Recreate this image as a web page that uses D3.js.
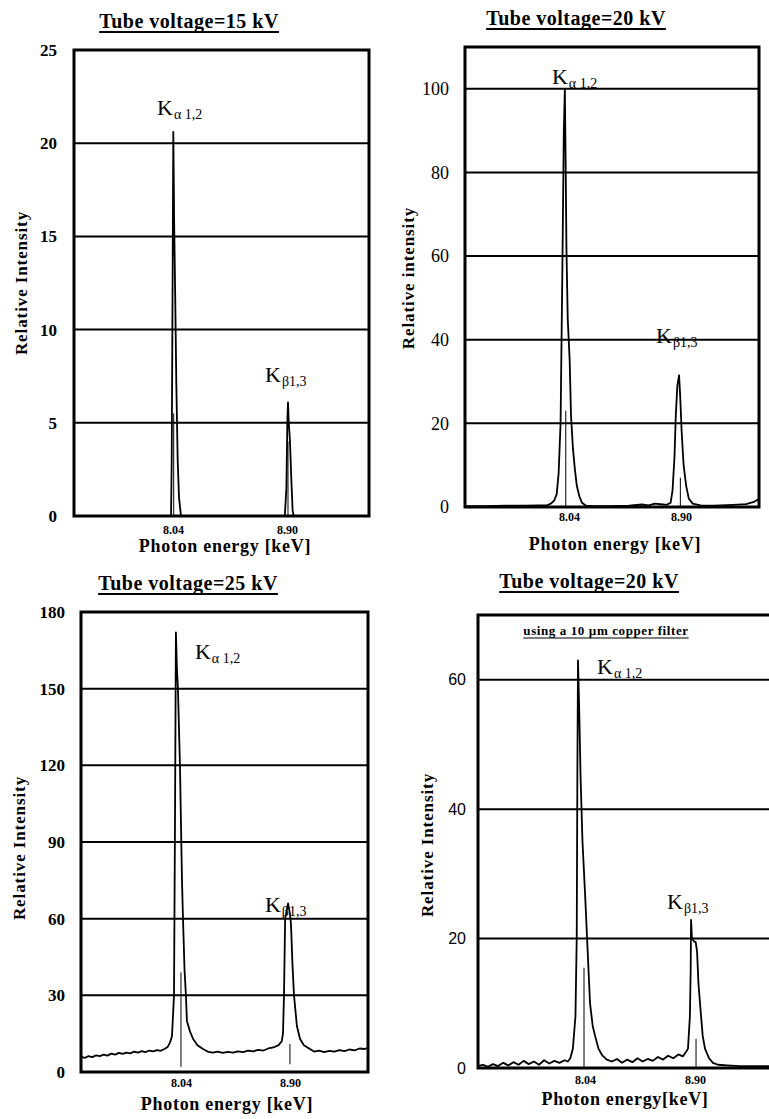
<!DOCTYPE html>
<html>
<head>
<meta charset="utf-8">
<script src="https://cdn.jsdelivr.net/npm/d3@7"></script>
<style>
  body { margin: 0; background: #fff; }
  svg { display: block; font-family: "Liberation Serif", "Times New Roman", serif; }
</style>
</head>
<body>
<script>
// ---- data (energy keV, relative intensity) ----
const xTicks = [8.04, 8.90]

const yTicks15 = [0, 5, 10, 15, 20, 25]
const spec15 = [
  [7.29, 0], [8.02, 0], [8.025, 0], [8.03, 3], [8.035, 10], [8.042, 20.6], [8.048, 16],
  [8.056, 12], [8.065, 7], [8.075, 3], [8.085, 1], [8.1, 0], [8.883, 0], [8.895, 1.5],
  [8.902, 5], [8.907, 6.1], [8.913, 5], [8.922, 4], [8.932, 2], [8.942, 0.3], [8.95, 0], [9.52, 0]
]
const marks15 = [[8.045, 0, 5.5], [8.907, 0, 4]]

const yTicks20 = [0, 20, 40, 60, 80, 100]
const spec20 = [
  [7.24, 0.2], [7.4, 0.2], [7.55, 0.3], [7.7, 0.3], [7.8, 0.4], [7.87, 0.4], [7.9, 0.8],
  [7.925, 1.5], [7.945, 3], [7.96, 8], [7.975, 20], [7.99, 60], [8.0, 90], [8.008, 100],
  [8.014, 82], [8.02, 62], [8.03, 45], [8.045, 35], [8.055, 22], [8.07, 14], [8.085, 9],
  [8.1, 5], [8.12, 2.5], [8.14, 1], [8.17, 0.3], [8.22, 0.2], [8.35, 0.2], [8.5, 0.3],
  [8.6, 0.6], [8.65, 0.4], [8.7, 0.8], [8.76, 0.6], [8.79, 0.5], [8.82, 1], [8.835, 4],
  [8.85, 12], [8.86, 22], [8.872, 29], [8.885, 31.5], [8.893, 27], [8.905, 18], [8.92, 10],
  [8.94, 5], [8.96, 2], [8.99, 0.8], [9.05, 0.4], [9.15, 0.3], [9.3, 0.5], [9.4, 0.7],
  [9.46, 1.2], [9.5, 2]
]
const marks20 = [[8.015, 0, 23], [8.895, 0, 7]]

const yTicks25 = [0, 30, 60, 90, 120, 150, 180]
const spec25 = [
  [7.25, 6], [7.28, 5.5], [7.31, 6.2], [7.34, 5.8], [7.37, 6.5], [7.4, 6.2], [7.43, 6.8],
  [7.46, 6.4], [7.49, 7.2], [7.52, 6.8], [7.55, 7.5], [7.58, 7.1], [7.61, 7.6], [7.64, 7.3],
  [7.67, 8], [7.7, 7.6], [7.73, 8.2], [7.76, 7.8], [7.79, 8.4], [7.82, 8.1], [7.85, 8.6],
  [7.88, 8.3], [7.91, 9], [7.935, 9.8], [7.953, 11.5], [7.969, 14], [7.985, 30], [7.993, 100],
  [8.0, 172], [8.008, 158], [8.016, 150], [8.032, 120], [8.048, 75], [8.056, 60], [8.068, 40],
  [8.079, 30], [8.087, 20], [8.11, 16], [8.135, 13], [8.17, 10.5], [8.214, 9], [8.25, 8],
  [8.29, 7.6], [8.33, 8], [8.37, 7.5], [8.41, 7.9], [8.45, 7.6], [8.49, 8.1], [8.53, 7.8],
  [8.57, 8.4], [8.61, 8.1], [8.65, 8.7], [8.69, 8.4], [8.73, 9.2], [8.77, 9.6], [8.81, 10.5],
  [8.835, 12], [8.845, 15], [8.853, 30], [8.862, 60], [8.885, 66], [8.9, 62], [8.908, 58],
  [8.92, 42], [8.932, 30], [8.955, 18], [8.979, 13], [9.01, 10.5], [9.058, 9], [9.09, 8],
  [9.13, 8.4], [9.17, 7.8], [9.21, 8.3], [9.25, 8], [9.29, 8.6], [9.33, 8.2], [9.37, 8.8],
  [9.41, 8.5], [9.45, 9.2], [9.49, 9], [9.52, 9.6]
]
const marks25 = [[8.04, 2, 39], [8.9, 3, 11]]

const yTicks20f = [0, 20, 40, 60]
const spec20f = [
  [7.2, 0.3], [7.24, 0.5], [7.28, 0.2], [7.32, 0.6], [7.36, 0.3], [7.4, 0.8], [7.44, 0.4],
  [7.48, 0.9], [7.52, 0.5], [7.56, 1.1], [7.6, 0.6], [7.64, 1], [7.68, 0.5], [7.72, 1.2],
  [7.76, 0.7], [7.8, 1.1], [7.84, 0.8], [7.88, 1.2], [7.905, 1], [7.925, 1.5], [7.945, 3],
  [7.965, 8], [7.975, 20], [7.98, 45], [7.985, 63], [7.995, 55], [8.005, 45], [8.02, 35],
  [8.04, 27], [8.056, 20], [8.079, 10], [8.1, 6.5], [8.118, 5], [8.145, 3], [8.173, 2],
  [8.21, 1.3], [8.25, 1], [8.29, 1.4], [8.33, 0.8], [8.37, 1.3], [8.41, 0.9], [8.45, 1.5],
  [8.49, 1], [8.53, 1.4], [8.57, 1.1], [8.61, 1.7], [8.65, 1.3], [8.69, 1.9], [8.73, 1.5],
  [8.77, 2.1], [8.806, 1.8], [8.83, 2.5], [8.845, 3], [8.86, 8], [8.866, 15], [8.869, 22.9],
  [8.876, 20], [8.895, 19.5], [8.905, 19.5], [8.916, 18], [8.927, 13], [8.939, 10], [8.96, 5],
  [8.978, 3], [9.01, 1.5], [9.04, 0.8], [9.08, 0.5], [9.15, 0.4], [9.25, 0.3], [9.35, 0.3], [9.5, 0.3]
]
const marks20f = [[8.032, 0, 15.5], [8.908, 0, 4.5]]

// ---- layout ----
const W = 769, H = 1119
const svg = d3.select('body').append('svg').attr('width', W).attr('height', H)

const panels = [
  {
    title: 'Tube voltage=15 kV', tx: 189, ty: 28,
    box: { left: 74, right: 369, top: 50, bottom: 516 },
    xDomain: [7.293, 9.518], yMax: 25, yTicks: yTicks15, spec: spec15, marks: marks15,
    yPad: 17, yFont: { family: '"Liberation Serif", serif', weight: 'bold', size: 17 },
    xPad: 9.5, xLabel: 'Photon energy [keV]', xl: [225, 552],
    yLabel: 'Relative Intensity', yl: [21, 283],
    ka: [7.919, 21.5], kb: [8.734, 7.2]
  },
  {
    title: 'Tube voltage=20 kV', tx: 576, ty: 25,
    box: { left: 465, right: 759, top: 47, bottom: 507 },
    xDomain: [7.241, 9.499], yMax: 110, yTicks: yTicks20, spec: spec20, marks: marks20,
    yPad: 16, yFont: { family: '"Liberation Serif", serif', weight: 'normal', size: 18 },
    xPad: 5.5, xLabel: 'Photon energy [keV]', xl: [615, 550],
    yLabel: 'Relative intensity', yl: [408, 278],
    ka: [7.909, 101.2], kb: [8.708, 39.2]
  },
  {
    title: 'Tube voltage=25 kV', tx: 188, ty: 590,
    box: { left: 81, right: 368, top: 612, bottom: 1072 },
    xDomain: [7.251, 9.516], yMax: 180, yTicks: yTicks25, spec: spec25, marks: marks25,
    yPad: 16, yFont: { family: '"Liberation Serif", serif', weight: 'bold', size: 17 },
    xPad: 6.5, xLabel: 'Photon energy [keV]', xl: [227, 1110],
    yLabel: 'Relative Intensity', yl: [19, 848],
    ka: [8.15, 161.8], kb: [8.703, 62.5]
  },
  {
    title: 'Tube voltage=20 kV', tx: 589, ty: 588,
    box: { left: 478, right: 772, top: 615, bottom: 1068 },
    xDomain: [7.203, 9.502], yMax: 70, yTicks: yTicks20f, spec: spec20f, marks: marks20f,
    yPad: 12, yFont: { family: '"Liberation Sans", Arial, sans-serif', weight: 'normal', size: 16 },
    xPad: 7.5, xLabel: 'Photon energy[keV]', xl: [625, 1105],
    yLabel: 'Relative Intensity', yl: [427, 845],
    ka: [8.134, 60.9], kb: [8.681, 24.6],
    note: 'using a 10 \u00b5m copper filter', noteY: 635
  }
]

function underlined(g, txt, x, y, size, gap, spacing) {
  const t = g.append('text')
    .attr('x', x).attr('y', y)
    .attr('text-anchor', 'middle')
    .attr('font-weight', 'bold')
    .attr('font-size', size)
    .attr('letter-spacing', spacing)
    .text(txt)
  const bb = t.node().getBBox()
  g.append('line')
    .attr('x1', bb.x).attr('x2', bb.x + bb.width)
    .attr('y1', y + gap).attr('y2', y + gap)
    .attr('stroke', '#000').attr('stroke-width', size > 14 ? 1.8 : 1.2)
}

function kLabel(g, x, y, sub) {
  const t = g.append('text').attr('x', x).attr('y', y).attr('font-size', 22)
  t.append('tspan').text('K')
  t.append('tspan').attr('font-size', 14).attr('dy', 4).attr('dx', 1).text(sub)
}

function drawPanel(p) {
  const b = p.box
  const x = d3.scaleLinear().domain(p.xDomain).range([b.left, b.right])
  const y = d3.scaleLinear().domain([0, p.yMax]).range([b.bottom, b.top])
  const g = svg.append('g')

  underlined(g, p.title, p.tx, p.ty, 20, 4, 0.5)

  // horizontal grid lines
  g.selectAll('.grid')
    .data(p.yTicks.filter(v => v > 0 && v < p.yMax))
    .enter().append('line')
      .attr('class', 'grid')
      .attr('x1', b.left).attr('x2', b.right)
      .attr('y1', d => y(d)).attr('y2', d => y(d))
      .attr('stroke', '#000').attr('stroke-width', 2)

  // y axis labels
  const ya = g.append('g')
    .attr('transform', `translate(${b.left},0)`)
    .call(d3.axisLeft(y).tickValues(p.yTicks).tickSize(0).tickPadding(p.yPad))
  ya.select('.domain').remove()
  ya.attr('font-family', p.yFont.family).attr('font-size', p.yFont.size).attr('font-weight', p.yFont.weight)
  ya.selectAll('text').attr('fill', '#000')

  // x axis labels
  const xa = g.append('g')
    .attr('transform', `translate(0,${b.bottom})`)
    .call(d3.axisBottom(x).tickValues(xTicks).tickFormat(d3.format('.2f')).tickSize(0).tickPadding(p.xPad))
  xa.select('.domain').remove()
  xa.attr('font-family', '"Liberation Serif", serif').attr('font-size', 12).attr('font-weight', 'bold')
  xa.selectAll('text').attr('fill', '#000')

  // axis titles
  g.append('text')
    .attr('x', p.xl[0]).attr('y', p.xl[1])
    .attr('text-anchor', 'middle')
    .attr('font-weight', 'bold').attr('font-size', 18)
    .attr('letter-spacing', 0.7)
    .text(p.xLabel)
  g.append('text')
    .attr('transform', `translate(${p.yl[0]},${p.yl[1]}) rotate(-90)`)
    .attr('text-anchor', 'middle')
    .attr('dominant-baseline', 'central')
    .attr('font-weight', 'bold').attr('font-size', 17)
    .attr('letter-spacing', 0.9)
    .text(p.yLabel)

  // spectrum
  const line = d3.line().x(d => x(d[0])).y(d => y(d[1]))
  g.append('path')
    .datum(p.spec)
    .attr('d', line)
    .attr('fill', 'none')
    .attr('stroke', '#000')
    .attr('stroke-width', 1.8)
    .attr('stroke-linejoin', 'round')

  // line markers inside the peaks
  g.selectAll('.mark')
    .data(p.marks)
    .enter().append('line')
      .attr('x1', d => x(d[0])).attr('x2', d => x(d[0]))
      .attr('y1', d => y(d[1])).attr('y2', d => y(d[2]))
      .attr('stroke', '#000').attr('stroke-width', 1)

  // frame
  g.append('rect')
    .attr('x', b.left).attr('y', b.top)
    .attr('width', b.right - b.left).attr('height', b.bottom - b.top)
    .attr('fill', 'none').attr('stroke', '#000').attr('stroke-width', 3)

  kLabel(g, x(p.ka[0]), y(p.ka[1]), '\u03b1 1,2')
  kLabel(g, x(p.kb[0]), y(p.kb[1]), '\u03b21,3')

  if (p.note) {
    underlined(g, p.note, 606, p.noteY, 13, 3, 0.6)
  }
}

panels.forEach(drawPanel)
</script>
</body>
</html>
